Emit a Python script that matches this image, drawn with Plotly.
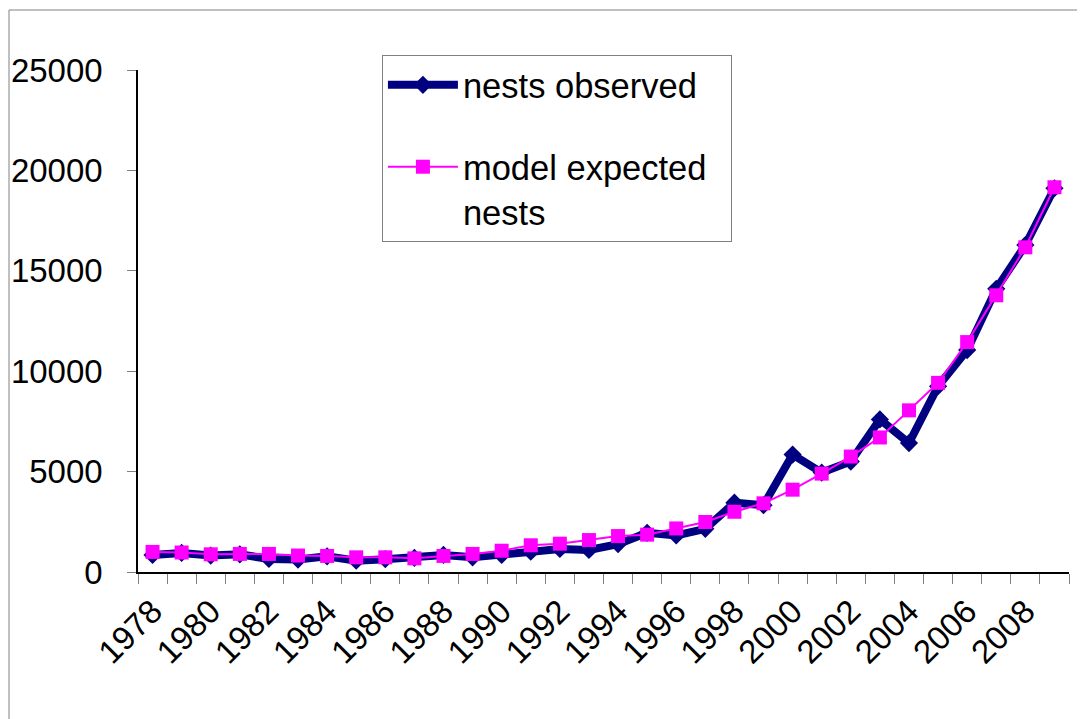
import plotly.graph_objects as go

years = list(range(1978, 2010))
nests_observed = [850, 950, 820, 880, 650, 620, 780, 560, 640, 700, 850, 730,
                  850, 1010, 1150, 1100, 1390, 1950, 1820, 2150, 3450, 3330,
                  5850, 4950, 5500, 7600, 6420, 9250, 11050, 14100, 16280, 19110]
model_expected = [1000, 970, 880, 900, 900, 820, 800, 730, 730, 680, 800, 900,
                  1060, 1330, 1410, 1590, 1790, 1860, 2170, 2490, 3000, 3420,
                  4100, 4900, 5750, 6700, 8050, 9420, 11450, 13780, 16170, 19160]
x_tick_labels = [str(y) for y in range(1978, 2009, 2)]
y_ticks = [0, 5000, 10000, 15000, 20000, 25000]

FONT = "Liberation Sans, Arial, sans-serif"

W, H = 1077, 711
L, T, PW, PH = 130, 62, 931, 502

fig = go.Figure()
fig.add_trace(go.Scatter(
    x=years, y=nests_observed, mode="lines+markers", name="nests observed",
    line=dict(color="#000080", width=8),
    marker=dict(symbol="diamond", size=14, color="#000080"),
    legendgroup="a",
))
fig.add_trace(go.Scatter(
    x=years, y=model_expected, mode="lines+markers",
    name="model expected&nbsp;&nbsp;<br>nests",
    line=dict(color="#FF00FF", width=2),
    marker=dict(symbol="square", size=14, color="#FF00FF"),
    legendgroup="b",
))

fig.update_layout(
    width=W, height=H,
    margin=dict(l=L, r=W - L - PW, t=T, b=H - T - PH, autoexpand=False),
    paper_bgcolor="white", plot_bgcolor="white",
    font=dict(family=FONT, size=33, color="black"),
    showlegend=True,
    legend=dict(
        x=0.262, y=1.03, xanchor="left", yanchor="top",
        bordercolor="#808080", borderwidth=1, bgcolor="white",
        font=dict(family=FONT, size=34.5, color="black"),
        itemwidth=70, tracegroupgap=34, traceorder="grouped", valign="top",
    ),
    shapes=[dict(type="rect", xref="paper", yref="paper",
                 x0=(1 - L) / PW, x1=1.1, y0=-0.4, y1=(T + PH - 2) / PH,
                 line=dict(color="#808080", width=1), fillcolor="rgba(0,0,0,0)",
                 layer="below")],
)

fig.update_xaxes(
    automargin=False,
    range=[1977.5, 2009.5],
    tickmode="array",
    tickvals=list(range(1978, 2009, 2)),
    ticktext=x_tick_labels,
    tickangle=-45,
    ticks="outside", ticklen=5, tickcolor="rgba(0,0,0,0)",
    minor=dict(ticks="outside", tick0=1977.5, dtick=1, ticklen=10,
               tickcolor="#808080", tickwidth=1),
    showline=True, linecolor="black", linewidth=1.5,
    showgrid=False, zeroline=False,
    tickfont=dict(family=FONT, size=33),
)
fig.update_yaxes(
    automargin=False,
    range=[0, 25000],
    tickmode="array", tickvals=y_ticks, ticktext=[str(v) for v in y_ticks],
    ticks="outside", ticklen=9, tickcolor="#808080",
    showline=True, linecolor="black", linewidth=1.5,
    showgrid=False, zeroline=False,
    ticklabelstandoff=18,
    tickfont=dict(family=FONT, size=33),
)

fig.write_html("out.html")
